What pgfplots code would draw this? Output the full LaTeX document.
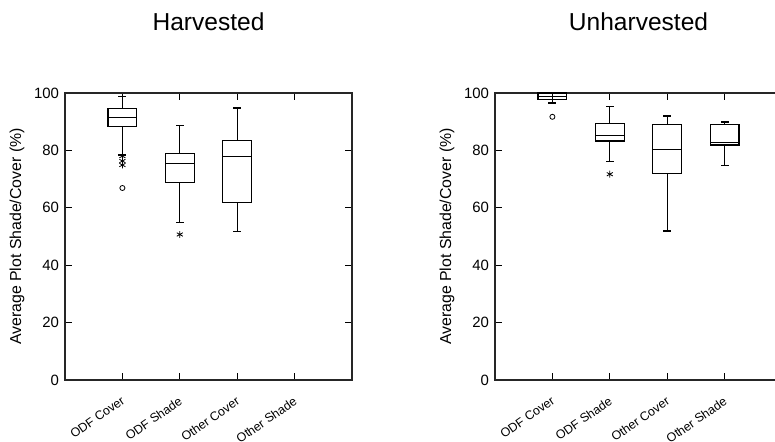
\documentclass[border=0pt]{standalone}
\usepackage{pgfplots}
\pgfplotsset{compat=1.18}
\usepackage{fontspec}
\setmainfont{Liberation Sans}
% box: #1 position, #2 lower whisker, #3 lower quartile, #4 median, #5 upper quartile, #6 upper whisker
\newcommand\bxp[6]{%
  \pgfmathsetmacro\xl{#1-0.25}\pgfmathsetmacro\xr{#1+0.25}%
  \pgfmathsetmacro\cl{#1-0.06}\pgfmathsetmacro\cr{#1+0.06}%
  \addplot[bxs] coordinates {(\xl,#3) (\xr,#3) (\xr,#5) (\xl,#5) (\xl,#3)};
  \addplot[bxs] coordinates {(\xl,#4) (\xr,#4)};
  \addplot[bxs] coordinates {(#1,#5) (#1,#6)};
  \addplot[bxs] coordinates {(#1,#3) (#1,#2)};
  \addplot[bxs] coordinates {(\cl,#6) (\cr,#6)};
  \addplot[bxs] coordinates {(\cl,#2) (\cr,#2)};
}
\begin{document}
\begin{tikzpicture}
\pgfplotsset{
  panel/.style={
    scale only axis,
    width=215.25pt, height=215.25pt,
    anchor=south west,
    xmin=0, xmax=5, ymin=0, ymax=100,
    xtick={1,2,3,4},
    xticklabels={ODF Cover,ODF Shade,Other Cover,Other Shade},
    ytick={0,20,40,60,80,100},
    xtick pos=both, ytick pos=both,
    xticklabel pos=lower, yticklabel pos=left,
    tick align=inside,
    major tick length=5pt,
    axis line style={line width=0.9pt, black!85},
    every tick/.style={line width=0.8pt, black},
    /pgf/number format/assume math mode=true,
    yticklabel style={font=\fontsize{11.2}{13}\selectfont, xshift=-1pt},
    xticklabel style={font=\fontsize{9.3}{11}\selectfont, xshift=-1.4pt, yshift=-11.6pt, rotate=35, anchor=north east, inner sep=0pt},
    every axis y label/.style={at={(axis description cs:-0.167,0.5)}, anchor=center, rotate=90, font=\fontsize{11.9}{14}\selectfont},
    ylabel={Average Plot Shade/Cover (\%)},
    every axis title/.style={at={(axis description cs:0.5,1.247)}, anchor=center, font=\fontsize{18.4}{21}\selectfont},
    clip=false,
  },
  bxs/.style={black, line width=0.9pt, solid, mark=none, line cap=rect, line join=miter},
  ast/.style={only marks, mark=asterisk, mark size=2.6pt, black, line width=0.6pt},
  circ/.style={only marks, mark=o, mark size=1.9pt, black, line width=0.6pt},
}
% ---------------- Harvested ----------------
\begin{axis}[panel, at={(48.75pt,46.5pt)}, title={Harvested}]
\bxp{1}{78.4}{88.2}{91.5}{94.6}{98.8}
\bxp{2}{54.8}{68.8}{75.5}{79.0}{88.6}
\bxp{3}{51.7}{61.8}{77.8}{83.4}{94.8}
\addplot[ast] coordinates {(1,78.0) (1,76.3) (1,74.9) (2,50.7)};
\addplot[circ] coordinates {(1,66.9)};
\end{axis}
% ---------------- Unharvested ----------------
\begin{axis}[panel, at={(371.25pt,46.5pt)}, title={Unharvested}]
\bxp{1}{96.5}{97.8}{98.9}{100.0}{100.0}
\bxp{2}{76.1}{83.3}{85.2}{89.3}{95.3}
\bxp{3}{51.9}{71.9}{80.3}{89.0}{92.0}
\bxp{4}{74.6}{81.9}{82.7}{88.9}{89.9}
\addplot[ast] coordinates {(2,71.7)};
\addplot[circ] coordinates {(1,91.7)};
\end{axis}
\pgfresetboundingbox
\useasboundingbox (0,0) rectangle (581.25pt,331.5pt);
\end{tikzpicture}
\end{document}
